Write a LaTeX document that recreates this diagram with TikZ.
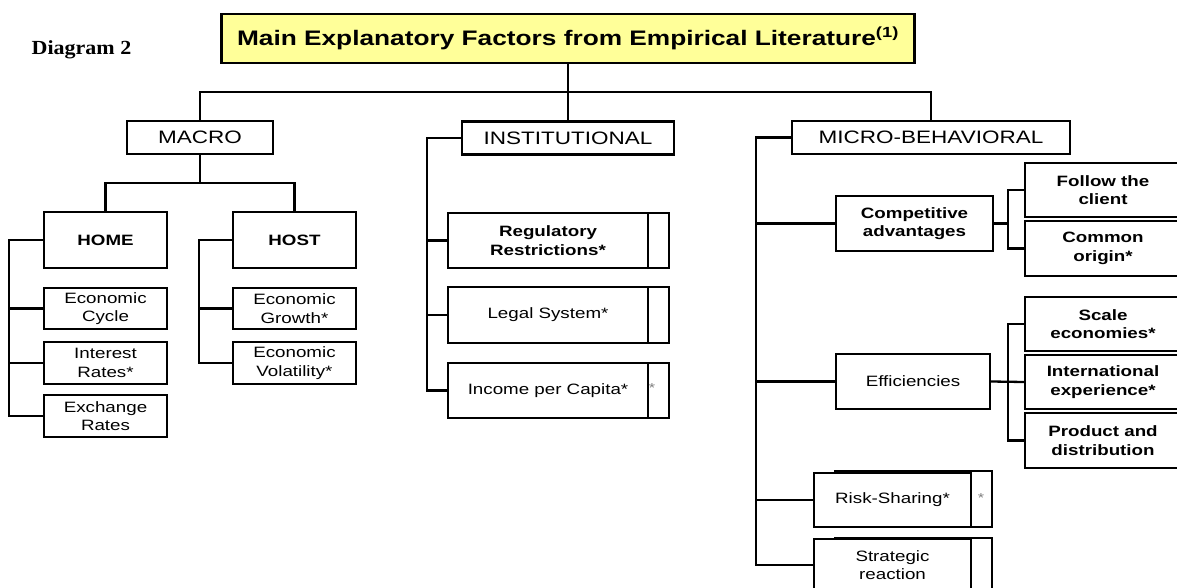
\documentclass[tikz,border=0pt]{standalone}
\usepackage{fontspec}
\newfontfamily\boxfont[FakeStretch=1.25]{Liberation Sans}
\newfontfamily\labelfont[FakeStretch=1.1]{Liberation Serif}
\definecolor{title_yellow}{RGB}{255,255,153}

\begin{document}
\begin{tikzpicture}[x=1pt,y=-1pt]
	\tikzstyle{box_plain} = [draw=black, line width=2.3pt, fill=white, inner sep=0pt, align=center, font=\boxfont\fontsize{15}{18.5}\selectfont]
	\tikzstyle{box_bold} = [box_plain, font=\boxfont\bfseries\fontsize{15}{18.5}\selectfont]
	\tikzstyle{box_head} = [box_plain, minimum height=33pt, font=\boxfont\fontsize{18}{21}\selectfont]
	\tikzstyle{box_back} = [draw=black, line width=2.3pt, fill=white, inner sep=0pt]
	\tikzstyle{stray_mark} = [inner sep=0pt, text=gray, font=\boxfont\fontsize{13}{13}\selectfont]
	\tikzstyle{link} = [draw=black, line width=2.3pt]

	\clip (0,0) rectangle (1177,588);

%------------------------------------------------------------
	\node[font=\labelfont\bfseries\fontsize{20}{24}\selectfont] (diagram) at (81.5,50) {Diagram 2};
	\node[box_plain, fill=title_yellow, minimum width=693pt, minimum height=49pt,
		font=\boxfont\bfseries\fontsize{21}{25}\selectfont] (title) at (568,38.5)
		{Main Explanatory Factors from Empirical Literature\textsuperscript{(1)}};

	\node[box_head, minimum width=146pt] (macro) at (200,137.5) {MACRO};
	\node[box_head, minimum width=212pt] (inst) at (568,138) {INSTITUTIONAL};
	\node[box_head, minimum width=278pt] (micro) at (931,137.5) {MICRO-BEHAVIORAL};

%------------------------------------------------------------

	\node[box_bold, minimum width=123pt, minimum height=56pt] (home) at (105.5,240) {HOME};
	\node[box_plain, minimum width=123pt, minimum height=41pt] (cycle) at (105.5,308.5) {Economic\\Cycle};
	\node[box_plain, minimum width=123pt, minimum height=42pt] (interest) at (105.5,363) {Interest\\Rates*};
	\node[box_plain, minimum width=123pt, minimum height=42pt] (exch) at (105.5,416) {Exchange\\Rates};

	\node[box_bold, minimum width=123pt, minimum height=56pt] (host) at (294.5,240) {HOST};
	\node[box_plain, minimum width=123pt, minimum height=41pt] (growth) at (294.5,308.5) {Economic\\Growth*};
	\node[box_plain, minimum width=123pt, minimum height=42pt] (volat) at (294.5,363) {Economic\\Volatility*};

%------------------------------------------------------------

	\node[box_back, minimum width=202pt, minimum height=55pt] (reg_back) at (568,240.5) {};
	\node[box_back, minimum width=202pt, minimum height=56pt] (legal_back) at (568,315) {};
	\node[box_back, minimum width=202pt, minimum height=55pt] (income_back) at (568,390.5) {};
	\node[stray_mark] (income_mark) at (652,388) {*};

	\node[box_bold, minimum width=200pt, minimum height=55pt] (reg) at (548,240.5) {Regulatory\\Restrictions*};
	\node[box_plain, minimum width=200pt, minimum height=56pt] (legal) at (548,315) {Legal System*};
	\node[box_plain, minimum width=200pt, minimum height=55pt] (income) at (548,390.5) {Income per Capita*};

%------------------------------------------------------------

	\node[box_bold, minimum width=157pt, minimum height=55pt] (comp) at (914.5,223.5) {Competitive\\advantages};
	\node[box_bold, minimum width=156pt, minimum height=54pt] (follow) at (1103,190) {Follow the\\client};
	\node[box_bold, minimum width=156pt, minimum height=55pt] (common) at (1103,248.5) {Common\\origin*};

	\node[box_plain, minimum width=154pt, minimum height=55pt] (eff) at (913,381.5) {Efficiencies};
	\node[box_bold, minimum width=156pt, minimum height=54pt] (scale) at (1103,324) {Scale\\economies*};
	\node[box_bold, minimum width=156pt, minimum height=54pt] (intl) at (1103,382) {International\\experience*};
	\node[box_bold, minimum width=156pt, minimum height=55pt] (prod) at (1103,440.5) {Product and\\distribution};

	\node[box_back, minimum width=157pt, minimum height=56pt] (risk_back) at (913.5,499) {};
	\node[stray_mark] (risk_mark) at (981,498) {*};
	\node[box_back, minimum width=157pt, minimum height=53pt] (strat_back) at (913.5,564.5) {};
	\node[box_plain, minimum width=157pt, minimum height=54pt] (risk) at (892.5,500) {Risk-Sharing*};
	\node[box_plain, minimum width=157pt, minimum height=52pt] (strat) at (892.5,565) {Strategic\\reaction};

%------------------------------------------------------------

	\coordinate (top_bus) at (568,92);
	\draw[link] (title.south) -- (inst.north);
	\draw[link] (macro.north) |- (top_bus) -| (micro.north);

	\coordinate (macro_bus) at (200,183);
	\draw[link] (macro.south) -- (macro_bus);
	\draw[link] (home.north) |- (macro_bus) -| (host.north);

	\coordinate (home_trunk) at (9,240);
	\draw[link] (home.west) -- (home_trunk) |- (exch.west);
	\draw[link] (cycle.west) -- (cycle.west -| home_trunk);
	\draw[link] (interest.west) -- (interest.west -| home_trunk);

	\coordinate (host_trunk) at (199,240);
	\draw[link] (host.west) -- (host_trunk) |- (volat.west);
	\draw[link] (growth.west) -- (growth.west -| host_trunk);

	\coordinate (inst_trunk) at (427,138);
	\draw[link] (inst.west) -- (inst_trunk) |- (income.west);
	\draw[link] (reg.west) -- (reg.west -| inst_trunk);
	\draw[link] (legal.west) -- (legal.west -| inst_trunk);

	\coordinate (micro_trunk) at (756,137.5);
	\draw[link] (micro.west) -- (micro_trunk) |- (strat.west);
	\draw[link] (comp.west) -- (comp.west -| micro_trunk);
	\draw[link] (eff.west) -- (eff.west -| micro_trunk);
	\draw[link] (risk.west) -- (risk.west -| micro_trunk);

	\coordinate (comp_fork) at (1008,223.5);
	\draw[link] (comp.east) -- (comp_fork);
	\draw[link] (follow.west) -| (comp_fork) |- (common.west);

	\coordinate (eff_fork) at (1008,381.5);
	\draw[link] (eff.east) -- (intl.west);
	\draw[link] (scale.west) -| (eff_fork) |- (prod.west);

\end{tikzpicture}
\end{document}
